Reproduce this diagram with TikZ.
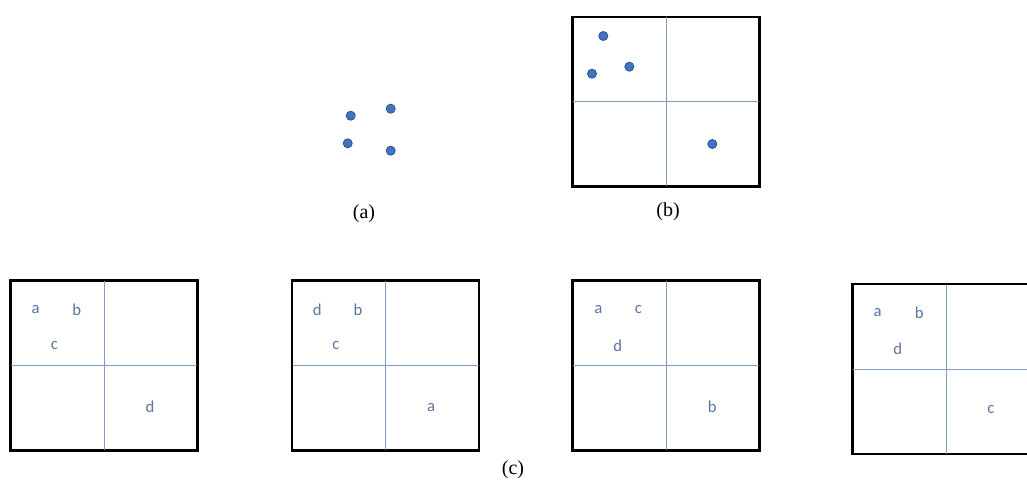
\documentclass[tikz,border=0pt]{standalone}
\usepackage{fontspec}
\setmainfont{Liberation Serif}
\newfontfamily\lettfont{Carlito}
\usepackage{xcolor}
\usepackage{tikz}
\usetikzlibrary{positioning,calc}
\definecolor{dotblue}{RGB}{68,114,196}
\definecolor{dotedge}{RGB}{47,82,143}
\definecolor{divline}{RGB}{132,156,188}
\definecolor{lettblue}{RGB}{90,116,160}
\tikzset{
  quad/.style={draw,line width=1.25pt,minimum width=139.5pt,
              minimum height=126.75pt,inner sep=0pt},
  divider/.style={divline,line width=0.6pt},
  blob/.style={circle,draw=dotedge,fill=dotblue,line width=0.6pt,
              minimum size=6.8pt,inner sep=0pt},
  lett/.style={text=lettblue,font=\lettfont\fontsize{12.5}{14}\selectfont,
              inner sep=0pt},
  sublabel/.style={font=\fontsize{15}{17}\selectfont,inner sep=0pt},
}

\begin{document}
\begin{tikzpicture}[x=0.75pt,y=-0.75pt]
  \clip (0,0) rectangle (1027,488);
  % (a) four points
  \node[blob] (pa) at (350.7,115.7) {};
  \node[blob] (pb) at (390.7,108.7) {};
  \node[blob] (pc) at (347.7,143.3) {};
  \node[blob] (pd) at (390.7,150.7) {};
  \node[sublabel] (capa) at (364,214) {(a)};

  % (b) points in quadrants
  \node[quad] (qb) at (666,101.7) {};
  \draw[divider] (qb.north) -- (qb.south);
  \draw[divider] (qb.west) -- (qb.east);
  \draw[line width=1.25pt] (qb.south west) rectangle (qb.north east);
  \node[blob] (qa1) at (603.3,36) {};
  \node[blob] (qa2) at (629.3,66.7) {};
  \node[blob] (qa3) at (592,73.7) {};
  \node[blob] (qa4) at (712.3,144) {};
  \node[sublabel] (capb) at (668,212) {(b)};

  % (c) the four cases
  \node[quad] (c1) at (104,365.5) {};
  \node[quad] (c2) at (385.5,365.5) {};
  \node[quad] (c3) at (666,365.5) {};
  \node[quad] (c4) at (946,369) {};
  \foreach \q in {c1,c2,c3,c4} {
    \draw[divider] (\q.north) -- (\q.south);
    \draw[divider] (\q.west) -- (\q.east);
    \draw[line width=1.25pt] (\q.south west) rectangle (\q.north east);
  }
  \node[lett] (c1a) at (35.7,309.3) {a};
  \node[lett] (c1b) at (76.7,309.3) {b};
  \node[lett] (c1c) at (54.3,346) {c};
  \node[lett] (c1d) at (150,406.7) {d};

  \node[lett] (c2d) at (317.3,309.3) {d};
  \node[lett] (c2b) at (358,309.3) {b};
  \node[lett] (c2c) at (336,346) {c};
  \node[lett] (c2a) at (431,407.3) {a};

  \node[lett] (c3a) at (598.3,309.3) {a};
  \node[lett] (c3c) at (638.3,309.3) {c};
  \node[lett] (c3d) at (617.7,346) {d};
  \node[lett] (c3b) at (712.3,406.7) {b};

  \node[lett] (c4a) at (877.7,312.3) {a};
  \node[lett] (c4b) at (919.3,312.3) {b};
  \node[lett] (c4d) at (897.7,349) {d};
  \node[lett] (c4c) at (991,410) {c};

  \node[sublabel] (capc) at (513,470) {(c)};
\end{tikzpicture}
\end{document}
